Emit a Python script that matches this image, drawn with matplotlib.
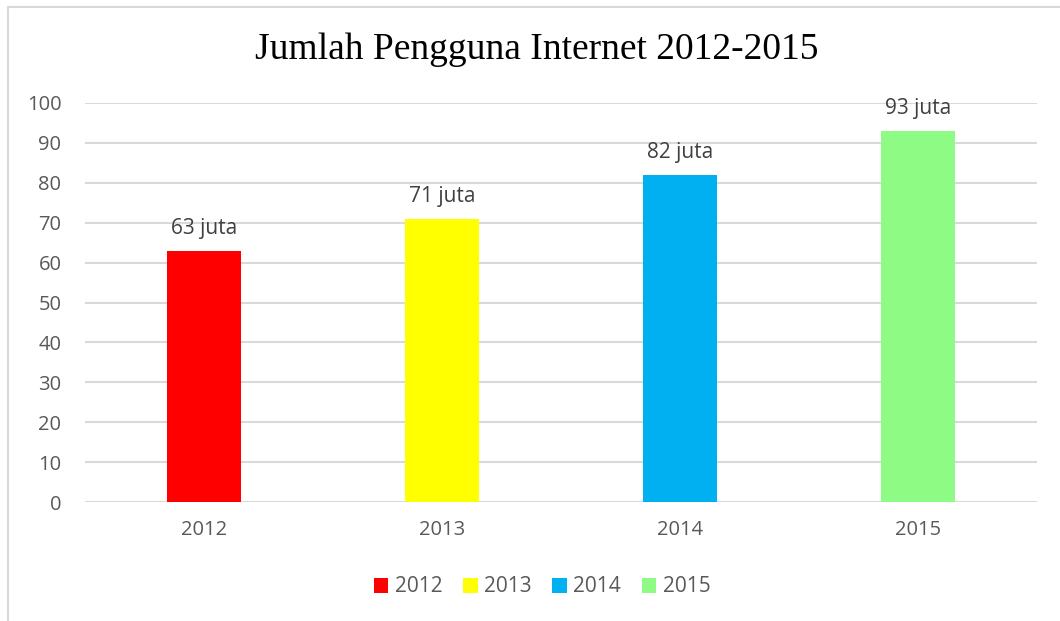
import matplotlib
matplotlib.use("Agg")
import matplotlib.pyplot as plt
from matplotlib.patches import Patch, Rectangle

categories = ["2012", "2013", "2014", "2015"]
values = [63, 71, 82, 93]
labels = ["63 juta", "71 juta", "82 juta", "93 juta"]
colors = ["#FF0000", "#FFFF00", "#00B0F0", "#8EFC84"]
yticks = [0, 10, 20, 30, 40, 50, 60, 70, 80, 90, 100]
title = "Jumlah Pengguna Internet 2012-2015"

W, H = 1060, 621
fig = plt.figure(figsize=(W / 100, H / 100), dpi=100)
fig.patch.set_facecolor("white")

# outer border
fig.patches.append(Rectangle((8 / W, -0.1), 1.2, 1 - 7 / H + 0.1, transform=fig.transFigure,
                             fill=False, edgecolor="#D9D9D9", linewidth=1.5))

ax = fig.add_axes([85 / W, 1 - 502 / H, (1037 - 85) / W, (502 - 103) / H])
x = list(range(len(categories)))
ax.bar(x, values, width=0.315, color=colors, zorder=3)
ax.set_xlim(-0.5, len(categories) - 0.5)
ax.set_ylim(0, 100)
ax.set_yticks(yticks)
ax.set_xticks(x)
ax.set_xticklabels(categories)
for s in ax.spines.values():
    s.set_visible(False)
ax.grid(axis="y", color="#D9D9D9", linewidth=1.5, zorder=0)
ax.tick_params(axis="both", length=0, labelsize=14.5, labelcolor="#595959")
ax.tick_params(axis="y", pad=17)
ax.tick_params(axis="x", pad=13)
for lab in ax.get_xticklabels() + ax.get_yticklabels():
    lab.set_fontfamily("Open Sans")

for xi, v, t in zip(x, values, labels):
    ax.annotate(t, (xi, v), xytext=(0, 16), textcoords="offset points",
                ha="center", va="center", fontsize=15, color="#404040",
                fontfamily="Open Sans")

fig.text(537 / W, 1 - 50 / H, title, ha="center", va="center",
         fontsize=27, fontfamily="Liberation Serif", color="black")

handles = [Patch(facecolor=c, edgecolor="none") for c in colors]
leg = fig.legend(handles, categories, loc="center", bbox_to_anchor=(542 / W, 1 - 587 / H),
                 ncol=4, frameon=False, handlelength=0.7, handleheight=0.7,
                 handletextpad=0.3, columnspacing=1.0,
                 prop={"family": "Open Sans", "size": 15})
for t in leg.get_texts():
    t.set_color("#595959")

fig.savefig("out.png", dpi=100, facecolor="white")
